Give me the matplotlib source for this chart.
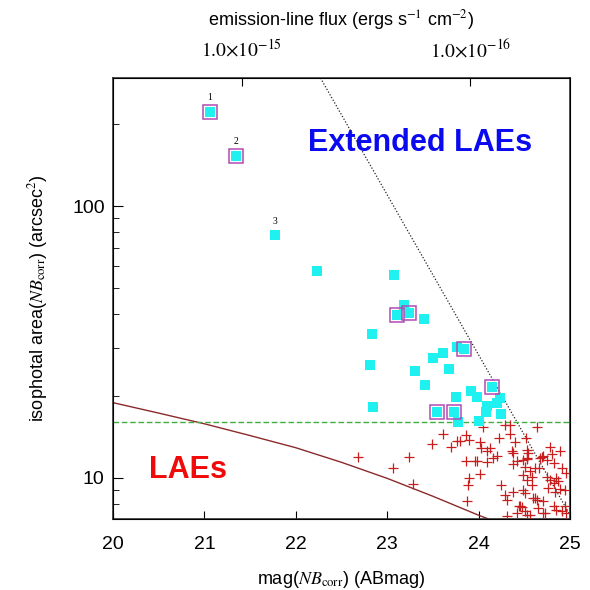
import numpy as np
import matplotlib
matplotlib.use("Agg")
import matplotlib.pyplot as plt

plt.rcParams["font.family"] = ["Liberation Sans", "DejaVu Sans"]
plt.rcParams["mathtext.fontset"] = "stix"

# cyan extended candidates (mag, isophotal area)
ext_mag = [21.06, 21.35, 21.77, 22.23, 23.07, 23.18, 23.11, 23.24, 23.40, 22.83,
           22.81, 23.76, 23.84, 23.61, 23.50, 23.68, 23.30, 23.41, 24.15, 23.75,
           23.92, 23.98, 24.23, 24.20, 24.09, 24.08, 24.25, 22.84, 23.55, 23.73,
           23.78, 24.00]
ext_area = [222, 153, 78, 57.7, 55.7, 43.2, 39.7, 40.3, 38.5, 33.8,
            26.0, 30.4, 29.7, 28.7, 27.5, 25.2, 24.7, 22.0, 21.5, 19.9,
            20.9, 19.9, 19.7, 18.9, 18.4, 17.5, 17.1, 18.2, 17.4, 17.4,
            16.1, 16.2]

# objects marked with an open box
box_mag = [21.06, 21.35, 23.11, 23.24, 23.84, 24.15, 23.55, 23.73]
box_area = [222, 153, 39.7, 40.3, 29.7, 21.5, 17.4, 17.4]

# numbered objects
num_labels = ["1", "2", "3"]
num_mag = [21.06, 21.35, 21.77]
num_area = [222, 153, 78]

# red crosses: ordinary LAEs
lae_mag = [22.68, 23.06, 23.24, 23.28, 23.49, 23.61, 23.70, 23.76, 23.80, 23.86,
           23.90, 23.86, 23.96, 23.98, 23.89, 23.88, 23.87, 24.02, 24.02, 24.05,
           24.03, 24.13, 24.09, 24.09, 24.16, 24.20, 24.22, 24.25, 24.29, 24.34,
           24.34, 24.29, 24.31, 24.31, 24.40, 24.36, 24.38, 24.38, 24.38, 24.42,
           24.42, 24.45, 24.47, 24.49, 24.49, 24.49, 24.51, 24.51, 24.52, 24.53,
           24.53, 24.53, 24.53, 24.54, 24.56, 24.58, 24.58, 24.62, 24.62, 24.64,
           24.64, 24.67, 24.71, 24.71, 24.75, 24.75, 24.73, 24.76, 24.78, 24.78,
           24.80, 24.82, 24.82, 24.82, 24.85, 24.85, 24.84, 24.89, 24.89, 24.91,
           24.91, 24.95, 24.95, 24.96, 24.96, 24.51, 24.56, 24.65, 24.71, 24.69,
           24.53, 24.60, 24.44, 24.87, 24.66]
lae_area = [11.9, 10.9, 11.9, 9.5, 13.3, 14.5, 13.0, 13.7, 13.6, 14.4,
            13.8, 11.55, 11.55, 11.55, 10.0, 9.4, 8.18, 13.5, 10.35, 15.35,
            12.9, 12.9, 12.5, 11.4, 11.8, 12.05, 14.0, 9.42, 15.7, 15.7,
            14.5, 8.66, 8.30, 7.25, 13.5, 12.5, 12.3, 11.2, 8.9, 11.5,
            7.41, 7.89, 7.80, 11.6, 10.25, 9.03, 11.0, 8.79, 14.0, 12.7,
            11.7, 9.84, 7.31, 12.3, 10.55, 10.1, 9.42, 10.85, 8.42, 15.35,
            8.30, 11.8, 12.0, 8.18, 11.6, 10.1, 7.41, 9.16, 13.0, 9.84,
            12.25, 11.3, 9.57, 7.85, 9.98, 7.63, 8.9, 12.5, 9.08, 10.85,
            7.52, 9.03, 7.85, 10.4, 7.41, 7.52, 7.31, 7.74, 7.45, 11.9,
            11.8, 8.4, 7.9, 9.7, 10.9]

# limiting area curve (point source)
curve_mag = [20.0, 20.5, 21.0, 21.5, 22.0, 22.5, 23.0, 23.5, 24.0, 24.1]
curve_area = [18.9, 17.3, 15.8, 14.3, 12.9, 11.4, 9.95, 8.55, 7.28, 7.07]

# selection boundary (dotted) and area cut (dashed)
sel_mag = [22.27, 25.0]
sel_area = [296, 7.3]
area_cut = 16.0

# top axis: flux ticks
flux_tick_mag = [21.41, 23.91]
flux_tick_labels = [r"$1.0{\times}10^{-15}$", r"$1.0{\times}10^{-16}$"]

fig = plt.figure(figsize=(5.9, 5.9), dpi=100)
ax = fig.add_axes([0.1915, 0.1203, 0.7746, 0.7475])

ax.plot(curve_mag, curve_area, color="#8b2a2a", lw=1.0, zorder=2)
ax.plot(sel_mag, sel_area, color="#222222", lw=0.9, ls=(0, (1, 1.5)), zorder=2)
ax.axhline(area_cut, color="#3fae3f", lw=1.0, ls=(0, (4, 2)), zorder=2)

ax.plot(lae_mag, lae_area, ls="none", marker="+", ms=7.5, mew=0.9,
        color="#c81e1e", zorder=3)
ax.plot(ext_mag, ext_area, ls="none", marker="s", ms=6.5, mew=0,
        color="#1ff0f0", zorder=4)
ax.plot(box_mag, box_area, ls="none", marker="s", ms=10, mew=1.1,
        mfc="none", mec="#b04cb4", zorder=5)

for lab, m, a in zip(num_labels, num_mag, num_area):
    ax.annotate(lab, (m, a), xytext=(0, 7), textcoords="offset points",
                ha="center", va="bottom", fontsize=7, family="Liberation Serif")

ax.text(23.36, 171, "Extended LAEs", color="#0a0af0", fontsize=22,
        fontweight="bold", ha="center", va="center")
ax.text(20.82, 10.7, "LAEs", color="#f00a0a", fontsize=22,
        fontweight="bold", ha="center", va="center")

ax.set_xlim(20, 25)
ax.set_ylim(7.05, 296)
ax.set_yscale("log")
ax.set_xticks([20, 21, 22, 23, 24, 25])
ax.set_yticks([10, 100])
ax.set_yticklabels(["10", "100"])
ax.tick_params(axis="both", which="both", direction="in", labelsize=14,
               right=False, top=False)
ax.tick_params(axis="x", length=6, pad=12)
ax.tick_params(axis="y", which="major", length=7, pad=6)
ax.tick_params(axis="y", which="minor", length=4, labelleft=False)
ax.set_xlabel(r"mag($NB_{\rm corr}$) (ABmag)", fontsize=13, labelpad=12)
ax.set_ylabel(r"isophotal area($NB_{\rm corr}$) (arcsec$^{2}$)", fontsize=13,
              labelpad=16)
for sp in ax.spines.values():
    sp.set_color("#333333")
    sp.set_linewidth(1.2)

top = ax.twiny()
top.set_xlim(ax.get_xlim())
top.set_xticks(flux_tick_mag)
top.set_xticklabels(flux_tick_labels, fontsize=14)
top.tick_params(direction="in", length=6, pad=12)
top.set_xlabel(r"emission-line flux (ergs s$^{-1}$ cm$^{-2}$)", fontsize=13,
               labelpad=10)

fig.savefig("out.png", dpi=100, facecolor="white")
